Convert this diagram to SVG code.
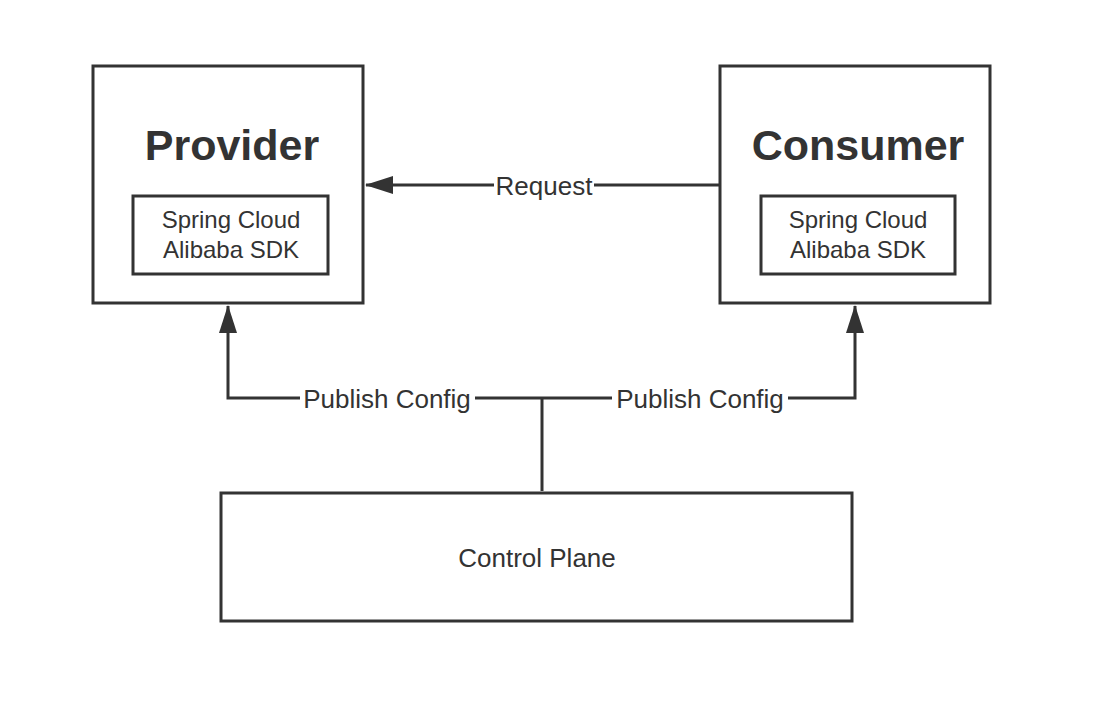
<svg xmlns="http://www.w3.org/2000/svg" width="1102" height="722" viewBox="0 0 1102 722">
<defs>
<marker id="arr" markerUnits="userSpaceOnUse" markerWidth="28" markerHeight="20" viewBox="0 0 28 20" refX="27" refY="10" orient="auto">
<path d="M0,1 L28,10 L0,19 Z" fill="#333"/>
</marker>
</defs>
<style>
.box{fill:#fff;stroke:#333;stroke-width:3}
.line{fill:none;stroke:#333;stroke-width:3}
.t{font-family:"Liberation Sans",Arial,sans-serif;fill:#333;text-anchor:middle}
.title{font-size:43px;font-weight:bold}
.sdk{font-size:24px}
.lbl{font-size:26px}
</style>
<rect width="1102" height="722" fill="#fff"/>
<g id="connectors">
<path class="line" d="M719,185 L366,185" marker-end="url(#arr)"/>
<path class="line" d="M542,491 L542,398"/>
<path class="line" d="M542,398 L228,398 L228,306" marker-end="url(#arr)"/>
<path class="line" d="M542,398 L855,398 L855,306" marker-end="url(#arr)"/>
<rect x="494" y="172" width="100" height="28" fill="#fff"/>
<text class="t lbl" x="544" y="195">Request</text>
<rect x="300" y="384" width="175" height="30" fill="#fff"/>
<text class="t lbl" x="387" y="408">Publish Config</text>
<rect x="612" y="384" width="176" height="30" fill="#fff"/>
<text class="t lbl" x="700" y="408">Publish Config</text>
</g>
<g id="provider">
<rect class="box" x="93" y="66" width="270" height="237"/>
<text class="t title" x="232" y="160">Provider</text>
<rect class="box" x="133" y="196" width="195" height="78"/>
<text class="t sdk" x="231" y="228">Spring Cloud</text>
<text class="t sdk" x="231" y="258">Alibaba SDK</text>
</g>
<g id="consumer">
<rect class="box" x="720" y="66" width="270" height="237"/>
<text class="t title" x="858" y="160">Consumer</text>
<rect class="box" x="761" y="196" width="194" height="78"/>
<text class="t sdk" x="858" y="228">Spring Cloud</text>
<text class="t sdk" x="858" y="258">Alibaba SDK</text>
</g>
<g id="control-plane">
<rect class="box" x="221" y="493" width="631" height="128"/>
<text class="t lbl" x="537" y="567">Control Plane</text>
</g>
</svg>
